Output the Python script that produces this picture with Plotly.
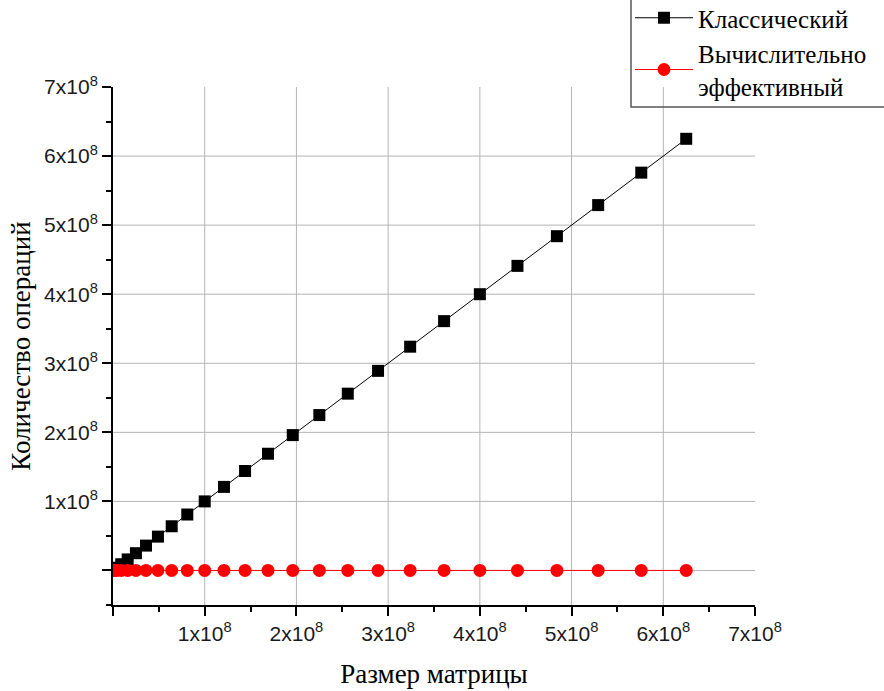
import plotly.graph_objects as go

# Matrix size (x) for both series
matrix_size = [1e6, 4e6, 9e6, 16e6, 25e6, 36e6, 49e6, 64e6, 81e6, 100e6,
               121e6, 144e6, 169e6, 196e6, 225e6, 256e6, 289e6, 324e6, 361e6,
               400e6, 441e6, 484e6, 529e6, 576e6, 625e6]
# Classic method: number of operations
ops_classic = [1e6, 4e6, 9e6, 16e6, 25e6, 36e6, 49e6, 64e6, 81e6, 100e6,
               121e6, 144e6, 169e6, 196e6, 225e6, 256e6, 289e6, 324e6, 361e6,
               400e6, 441e6, 484e6, 529e6, 576e6, 625e6]
# Computationally efficient method: number of operations (≈0 on this scale)
ops_efficient = [2e3, 4e3, 6e3, 8e3, 1e4, 1.2e4, 1.4e4, 1.6e4, 1.8e4, 2e4,
                 2.2e4, 2.4e4, 2.6e4, 2.8e4, 3e4, 3.2e4, 3.4e4, 3.6e4, 3.8e4,
                 4e4, 4.2e4, 4.4e4, 4.6e4, 4.8e4, 5e4]

tick_vals = [0, 1e8, 2e8, 3e8, 4e8, 5e8, 6e8, 7e8]
tick_text = ["", "1x10<sup>8</sup>", "2x10<sup>8</sup>", "3x10<sup>8</sup>",
             "4x10<sup>8</sup>", "5x10<sup>8</sup>", "6x10<sup>8</sup>", "7x10<sup>8</sup>"]
x_grid = [1e8, 2e8, 3e8, 4e8, 5e8, 6e8]
y_grid = [0, 1e8, 2e8, 3e8, 4e8, 5e8, 6e8]

serif = "Liberation Serif"
sans = "Liberation Sans"

fig = go.Figure()
fig.add_trace(go.Scatter(
    x=matrix_size, y=ops_classic, mode="lines+markers", name="Классический",
    line=dict(color="black", width=1),
    marker=dict(symbol="square", size=12, color="black"),
))
fig.add_trace(go.Scatter(
    x=matrix_size, y=ops_efficient, mode="lines+markers",
    name="Вычислительно<br>эффективный",
    line=dict(color="red", width=1),
    marker=dict(symbol="circle", size=13, color="red"),
))

for gx in x_grid:
    fig.add_shape(type="line", xref="x", yref="y domain", x0=gx, x1=gx, y0=0, y1=1,
                  line=dict(color="#b4b4b4", width=1), layer="below")
for gy in y_grid:
    fig.add_shape(type="line", xref="x domain", yref="y", x0=0, x1=1, y0=gy, y1=gy,
                  line=dict(color="#b4b4b4", width=1), layer="below")

# legend frame (extends off-page at top/right as in reference)
fig.add_shape(type="rect", xref="paper", yref="paper",
              x0=(631 - 113) / 642, x1=1.4, y0=(605 - 107) / 518, y1=1.4,
              line=dict(color="#555555", width=1.5), fillcolor="rgba(0,0,0,0)")

tick_font = dict(family=sans, size=21, color="#1a1a1a")
minor_ticks = dict(tickmode="linear", tick0=0, dtick=5e7, ticks="outside",
                   ticklen=5, tickwidth=2, tickcolor="black", showgrid=False)

fig.update_xaxes(
    range=[0, 7e8],
    tickmode="array", tickvals=tick_vals, ticktext=tick_text,
    showgrid=False, zeroline=False,
    showline=True, linecolor="black", linewidth=2,
    ticks="outside", ticklen=9, tickwidth=2, tickcolor="black",
    tickfont=tick_font, minor=minor_ticks, automargin=False,
    title=dict(text="Размер матрицы", font=dict(family=serif, size=27, color="black"),
               standoff=20),
)
fig.update_yaxes(
    range=[-0.5e8, 7e8],
    tickmode="array", tickvals=tick_vals, ticktext=tick_text,
    showgrid=False, zeroline=False,
    showline=True, linecolor="black", linewidth=2,
    ticks="outside", ticklen=9, tickwidth=2, tickcolor="black",
    tickfont=tick_font, minor=minor_ticks, automargin=False,
    title=dict(text="Количество операций", font=dict(family=serif, size=27, color="black"),
               standoff=6),
)

fig.update_layout(
    width=884, height=691,
    margin=dict(l=113, r=129, t=87, b=86, autoexpand=False),
    paper_bgcolor="white", plot_bgcolor="white",
    font=dict(family=serif),
    showlegend=True,
    legend=dict(x=(630 - 113) / 642, xanchor="left", y=(605 + 5) / 518, yanchor="top",
                font=dict(family=serif, size=25, color="black"),
                bgcolor="rgba(0,0,0,0)", borderwidth=0,
                tracegroupgap=0, itemwidth=58),
)

fig.write_html("out.html")
